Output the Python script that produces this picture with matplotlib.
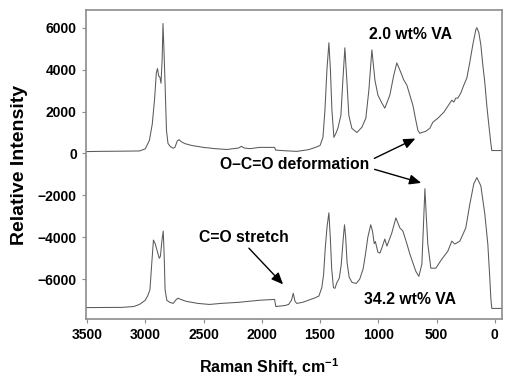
import matplotlib
matplotlib.use("Agg")
import matplotlib.pyplot as plt

plt.rcParams['font.family'] = ['Liberation Sans', 'DejaVu Sans']
plt.rcParams['font.weight'] = 'bold'
plt.rcParams['mathtext.fontset'] = 'custom'
plt.rcParams['mathtext.rm'] = 'Liberation Sans:bold'
plt.rcParams['mathtext.bf'] = 'Liberation Sans:bold'

# 2.0 wt% VA spectrum (upper)
top_wn = [3505, 3400, 3200, 3050, 3000, 2965, 2940, 2920, 2905, 2895, 2885, 2875,
          2865, 2855, 2848, 2840, 2830, 2818, 2805, 2785, 2760, 2745, 2725, 2710,
          2690, 2660, 2600, 2500, 2400, 2300, 2200, 2175, 2150, 2100, 2020, 1890,
          1880, 1800, 1700, 1600, 1540, 1500, 1475, 1458, 1441, 1424, 1411, 1398,
          1381, 1364, 1347, 1321, 1304, 1287, 1270, 1253, 1227, 1184, 1141, 1107,
          1081, 1055, 1029, 1003, 969, 944, 901, 867, 841, 815, 781, 755, 729,
          703, 678, 660, 643, 626, 592, 558, 532, 489, 437, 386, 369, 352, 335,
          317, 292, 266, 240, 214, 189, 163, 154, 137, 120, 103, 86, 69, 51, 34,
          26, -60]
top_int = [90, 100, 110, 120, 220, 620, 1400, 2600, 3850, 4050, 3700, 3650,
           3350, 4500, 6200, 5000, 3300, 1100, 480, 330, 250, 300, 600, 660,
           560, 470, 380, 290, 230, 190, 260, 340, 260, 230, 290, 290,
           160, 130, 100, 180, 290, 380, 770, 2060, 3980, 5280, 4000, 2060,
           770, 960, 1200, 1820, 3500, 5040, 3500, 1820, 1200, 1000, 1250, 1680,
           3020, 4940, 3500, 2780, 2400, 2160, 2780, 3740, 4320, 3980, 3500, 3260, 2780,
           2300, 1580, 1100, 960, 1000, 1060, 1200, 1490, 1680, 1970, 2400, 2540, 2450, 2640,
           2640, 2880, 3260, 3600, 4370, 5180, 5900, 6000, 5760, 5180, 4220, 3400, 2300, 1340, 480,
           140, 140]

# 34.2 wt% VA spectrum (lower, offset)
bot_wn = [3505, 3200, 3100, 3050, 3000, 2980, 2960, 2945, 2930, 2915, 2900, 2880,
          2870, 2858, 2846, 2838, 2830, 2815, 2790, 2760, 2740, 2720, 2700, 2650,
          2550, 2450, 2350, 2200, 2020, 1890, 1880, 1800, 1770, 1745, 1730, 1715,
          1700, 1650, 1600, 1550, 1510, 1485, 1470, 1455, 1440, 1424, 1412, 1400,
          1385, 1372, 1355, 1335, 1318, 1300, 1290, 1280, 1268, 1250, 1225, 1190,
          1160, 1130, 1110, 1090, 1065, 1050, 1035, 1025, 1004, 986, 969, 944, 926,
          884, 849, 815, 789, 755, 729, 678, 652, 626, 613, 600, 588, 575, 549,
          506, 455, 403, 369, 343, 300, 249, 214, 180, 154, 120, 86, 60, 43, 34,
          26, -60]
bot_int = [-7350, -7340, -7300, -7200, -7000, -6800, -6500, -5300, -4130, -4300, -4600, -5000,
           -4900, -4200, -3700, -4800, -6500, -7000, -7100, -7150, -7000, -6900, -6950, -7050,
           -7150, -7200, -7150, -7100, -7000, -6960, -7300, -7250, -7200, -7000, -6670, -7050,
           -7150, -7100, -7000, -6900, -6800, -6400, -5800, -4500, -3500, -2830, -4000, -5500,
           -6400, -6430, -6150, -5950, -5300, -4000, -3400, -4000, -5200, -5900, -6150, -6200,
           -6000, -5500, -4800, -4000, -3400, -3700, -4300, -4200, -4700, -4750, -4500, -4080, -4420,
           -3790, -3070, -3550, -3700, -4300, -4800, -5620, -5860, -5280, -3500, -1680, -3000, -4320, -5470,
           -5470, -5040, -4660, -4180, -4320, -4180, -3550, -2400, -1440, -1150, -1540, -2880, -4320, -5950, -6910,
           -7390, -7390]

xticks = [3500, 3000, 2500, 2000, 1500, 1000, 500, 0]
yticks = [-6000, -4000, -2000, 0, 2000, 4000, 6000]

fig = plt.figure(figsize=(5.11, 3.79), dpi=100)
ax = fig.add_axes([0.168, 0.158, 0.814, 0.816])

ax.plot(top_wn, top_int, color='#5a5a5a', lw=0.75)
ax.plot(bot_wn, bot_int, color='#5a5a5a', lw=0.75)

ax.set_xlim(3510, -60)
ax.set_ylim(-7900, 6850)
ax.set_xticks(xticks)
ax.set_yticks(yticks)
ax.tick_params(labelsize=10, length=3, color='#8c8c8c', direction='out')
for s in ax.spines.values():
    s.set_color('#8c8c8c')
    s.set_linewidth(1.2)

ax.set_xlabel(r'Raman Shift, cm$^{-1}$', fontsize=11.5, fontweight='bold')
ax.xaxis.set_label_coords(0.44, -0.12)
ax.set_ylabel('Relative Intensity', fontsize=14, fontweight='bold')
ax.yaxis.set_label_coords(-0.138, 0.5)

ax.text(720, 5660, '2.0 wt% VA', fontsize=11.3, fontweight='bold', ha='center', va='center')
ax.text(729, -6960, '34.2 wt% VA', fontsize=11.3, fontweight='bold', ha='center', va='center')
ax.text(2153, -4030, 'C=O stretch', fontsize=11.3, fontweight='bold', ha='center', va='center')
ax.text(1716, -530, 'O\u2013C=O deformation', fontsize=11.3, fontweight='bold', ha='center', va='center')

arrow = dict(arrowstyle='-|>,head_length=0.7,head_width=0.3', color='black', lw=1)
ax.annotate('', xy=(660, 770), xytext=(1055, -290), arrowprops=arrow)
ax.annotate('', xy=(609, -1440), xytext=(1055, -720), arrowprops=arrow)
ax.annotate('', xy=(1801, -6340), xytext=(2127, -4420), arrowprops=arrow)

plt.savefig('out.png', dpi=100)
